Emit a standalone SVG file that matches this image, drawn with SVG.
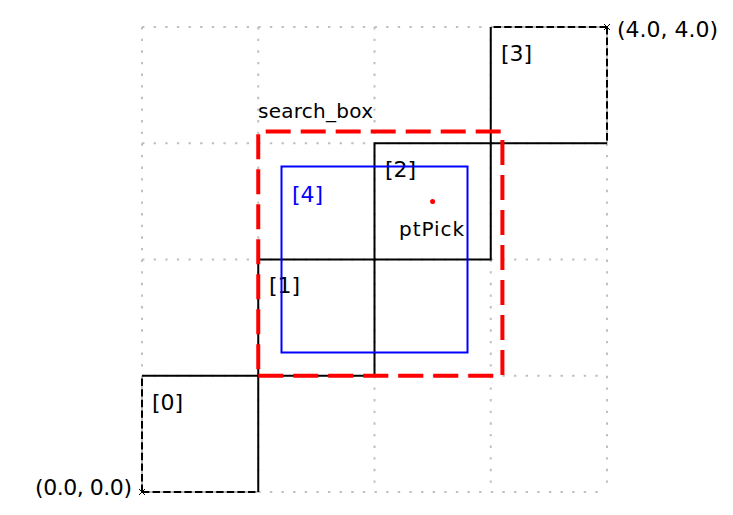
<svg xmlns="http://www.w3.org/2000/svg" width="733" height="515" viewBox="0 0 733 515">
<style>
.grid{stroke:#c0c0c0;stroke-width:2;stroke-dasharray:2.4 9.225;fill:none}
.box{stroke:#000;stroke-width:2;fill:none}
.dash{stroke:#000;stroke-width:2;fill:none;stroke-dasharray:7.4 3.2}
.under{stroke:#c0c0c0;stroke-width:2;fill:none}
.lbl{font-family:"DejaVu Sans",sans-serif;font-size:20px;fill:#000}
.num{font-family:"DejaVu Sans",sans-serif;font-size:22px;fill:#000}
</style>
<rect width="733" height="515" fill="#fff"/>
<g id="grid">
<path class="grid" d="M142,27V492M258.25,27V492M374.5,27V492M490.75,27V492M607,27V492"/>
<path class="grid" d="M142,27H607M142,143.25H607M142,259.5H607M142,375.75H607M142,492H607"/>
</g>
<g id="box0">
<path class="under" d="M142,492V375.75M142,492H258.25"/>
<path class="box" d="M142,375.75H258.25V492"/>
<path class="dash" d="M142,492V375.75M142,492H258.25"/>
<text class="num" x="152" y="410">[0]</text>
</g>
<g id="box1">
<rect class="box" x="258.25" y="259.5" width="116.25" height="116.25"/>
<text class="num" x="269" y="293">[1]</text>
</g>
<g id="box2">
<rect class="box" x="374.5" y="143.25" width="116.25" height="116.25"/>
<text class="num" x="385" y="177">[2]</text>
</g>
<g id="box3">
<path class="under" d="M607,27H490.75M607,27V143.25"/>
<path class="box" d="M490.75,27V143.25H607"/>
<path class="dash" d="M607,27H490.75M607,27V143.25"/>
<text class="num" x="501" y="61">[3]</text>
</g>
<g id="search_box">
<path d="M258.25,375.75H502.4V131.6H258.25Z" fill="none" stroke="#ff0000" stroke-width="4" stroke-dasharray="25 10"/>
<text class="lbl" x="258" y="118" textLength="115" lengthAdjust="spacing">search_box</text>
</g>
<g id="box4">
<rect x="281.5" y="166.5" width="186" height="186" fill="none" stroke="#0000ff" stroke-width="2"/>
<text class="num" x="292" y="202" style="fill:#0000ff">[4]</text>
</g>
<g id="ptPick">
<circle cx="432.6" cy="201.4" r="2.5" fill="#ff0000"/>
<text class="lbl" x="399" y="236" textLength="65" lengthAdjust="spacing">ptPick</text>
</g>
<g id="origin">
<path d="M139,489L145,495M139,495L145,489" stroke="#000" stroke-width="1"/>
<text class="num" x="35" y="495" textLength="97" lengthAdjust="spacing">(0.0, 0.0)</text>
</g>
<g id="corner">
<path d="M604,24L610,30M604,30L610,24" stroke="#000" stroke-width="1"/>
<text class="num" x="617" y="37" textLength="101" lengthAdjust="spacing">(4.0, 4.0)</text>
</g>
</svg>
